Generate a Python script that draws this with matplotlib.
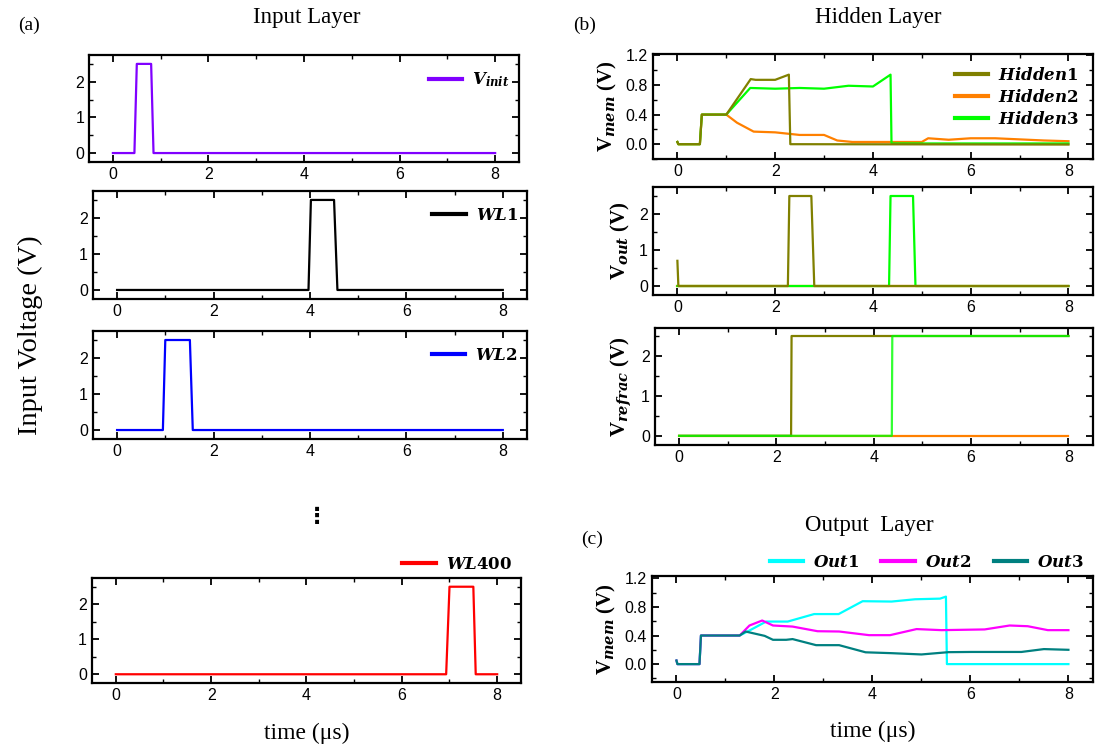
import numpy as np
import matplotlib
matplotlib.use('Agg')
import matplotlib.pyplot as plt
from matplotlib.ticker import MultipleLocator, FormatStrFormatter

# input pulses (time in us, voltage in V)
pulse_v = [0, 0, 2.5, 2.5, 0, 0]
t_init = [0, 0.45, 0.5, 0.8, 0.85, 8]
t_wl1 = [0, 3.97, 4.02, 4.5, 4.57, 8]
t_wl2 = [0, 0.95, 1.0, 1.51, 1.57, 8]
t_wl400 = [0, 6.93, 7.0, 7.5, 7.55, 8]

# hidden layer membrane voltage
h1_mem_t = [0, 0.02, 0.46, 0.5, 1.0, 1.5, 1.6, 2.0, 2.28, 2.31, 8]
h1_mem_v = [0.03, 0, 0, 0.4, 0.4, 0.88, 0.87, 0.87, 0.94, 0, -0.005]
h2_mem_t = [0, 0.02, 0.46, 0.5, 1.0, 1.22, 1.56, 2.0, 2.5, 3.0, 3.27, 3.58,
            4.0, 5.0, 5.13, 5.55, 6.0, 6.5, 7.0, 7.5, 8.0]
h2_mem_v = [0.03, 0, 0, 0.4, 0.4, 0.29, 0.17, 0.16, 0.125, 0.125, 0.05, 0.03,
            0.03, 0.03, 0.08, 0.06, 0.08, 0.08, 0.065, 0.05, 0.04]
h3_mem_t = [0, 0.02, 0.46, 0.5, 1.0, 1.49, 2.0, 2.5, 3.0, 3.5, 4.0, 4.36, 4.38, 8]
h3_mem_v = [0.03, 0, 0, 0.4, 0.4, 0.76, 0.75, 0.76, 0.75, 0.79, 0.78, 0.94, 0.01, 0.01]

# hidden layer output voltage
h1_out_t = [0, 0.02, 2.26, 2.29, 2.74, 2.8, 8]
h1_out_v = [0.7, 0, 0, 2.5, 2.5, 0, 0]
h2_out_t = [0, 8]
h2_out_v = [0, 0]
h3_out_t = [0, 4.33, 4.36, 4.82, 4.87, 8]
h3_out_v = [0, 0, 2.5, 2.5, 0, 0]

# hidden layer refractory voltage
h1_ref_t = [0, 2.3, 2.31, 8]
h1_ref_v = [0, 0, 2.5, 2.5]
h2_ref_t = [0, 8]
h2_ref_v = [0, 0]
h3_ref_t = [0, 4.37, 4.38, 8]
h3_ref_v = [0, 0, 2.5, 2.5]

# output layer membrane voltage
o1_t = [0, 0.02, 0.47, 0.5, 1.29, 1.49, 1.83, 2.27, 2.81, 3.31, 3.8, 4.39,
        4.87, 5.38, 5.5, 5.52, 8]
o1_v = [0.05, 0, 0, 0.4, 0.4, 0.47, 0.595, 0.595, 0.70, 0.70, 0.88, 0.875,
        0.907, 0.916, 0.944, 0, 0]
o2_t = [0, 0.02, 0.47, 0.5, 1.29, 1.49, 1.75, 1.97, 2.37, 2.88, 3.32, 3.93,
        4.36, 4.9, 5.41, 6.29, 6.8, 7.17, 7.58, 8]
o2_v = [0.05, 0, 0, 0.4, 0.4, 0.54, 0.61, 0.54, 0.525, 0.46, 0.456, 0.405,
        0.405, 0.49, 0.475, 0.485, 0.54, 0.53, 0.475, 0.475]
o3_t = [0, 0.02, 0.47, 0.5, 1.29, 1.41, 1.8, 1.97, 2.24, 2.37, 2.85, 3.32,
        3.86, 4.39, 5.0, 5.55, 6.02, 7.04, 7.5, 8]
o3_v = [0.05, 0, 0, 0.4, 0.4, 0.456, 0.395, 0.34, 0.34, 0.35, 0.265, 0.265,
        0.165, 0.153, 0.135, 0.167, 0.17, 0.17, 0.21, 0.2]

plt.rcParams['font.family'] = 'Liberation Sans'
plt.rcParams['mathtext.fontset'] = 'custom'
plt.rcParams['mathtext.rm'] = 'Liberation Serif:bold'
plt.rcParams['mathtext.bf'] = 'Liberation Serif:bold'
plt.rcParams['mathtext.bfit'] = 'DejaVu Serif:italic:bold'
plt.rcParams['mathtext.it'] = 'DejaVu Serif:italic:bold'
plt.rcParams['mathtext.sf'] = 'DejaVu Serif:bold'

serif = 'Liberation Serif'
c_h1, c_h2, c_h3 = '#808000', '#ff8000', '#00ff00'
lw = 1.6

fig = plt.figure(figsize=(10.95, 7.45), dpi=100)


def style(ax, ylim, ymaj, ymin):
    ax.set_xlim(-0.5, 8.5)
    ax.set_ylim(*ylim)
    ax.xaxis.set_major_locator(MultipleLocator(2))
    ax.xaxis.set_minor_locator(MultipleLocator(1))
    ax.yaxis.set_major_locator(MultipleLocator(ymaj))
    ax.yaxis.set_minor_locator(MultipleLocator(ymin))
    ax.tick_params(which='both', direction='in', top=True, right=True, labelsize=11.5)
    ax.tick_params(which='major', length=5, width=1.3)
    ax.tick_params(which='minor', length=3, width=1.0)
    for s in ax.spines.values():
        s.set_linewidth(1.6)


def legend(ax, **kw):
    kw.setdefault('handlelength', 2.0)
    leg = ax.legend(frameon=False, fontsize=12, handletextpad=0.6, **kw)
    for ln in leg.get_lines():
        ln.set_linewidth(3)
    return leg


# left column: input layer
left = [
    ([0.0813, 0.7826, 0.3927, 0.1436], t_init, '#8000ff', r'$\mathbfit{V}_{\mathbfit{init}}$'),
    ([0.0849, 0.5987, 0.3963, 0.1450], t_wl1, 'black', r'$\mathbfit{WL}\mathsf{1}$'),
    ([0.0849, 0.4107, 0.3963, 0.1450], t_wl2, '#0000ff', r'$\mathbfit{WL}\mathsf{2}$'),
    ([0.0840, 0.0832, 0.3918, 0.1410], t_wl400, '#ff0000', r'$\mathbfit{WL}\mathsf{400}$'),
]
for k, (rect, tt, col, lab) in enumerate(left):
    ax = fig.add_axes(rect)
    ax.plot(tt, pulse_v, color=col, lw=lw, label=lab)
    style(ax, (-0.25, 2.75), 1, 0.5)
    if k < 3:
        legend(ax, loc='upper right', bbox_to_anchor=(1.0, 0.94), borderaxespad=0.15)
    else:
        legend(ax, loc='lower right', bbox_to_anchor=(1.0, 0.97), borderaxespad=0.15)
        ax.set_xlabel('time (μs)', family=serif, fontsize=17, labelpad=14)

# right column: hidden layer
ylab_kw = dict(fontsize=15, family=serif, fontweight='bold', labelpad=5)

ax = fig.add_axes([0.5963, 0.7866, 0.4018, 0.141])
ax.plot(h2_mem_t, h2_mem_v, color=c_h2, lw=lw, label=r'$\mathbfit{Hidden}\mathsf{2}$')
ax.plot(h3_mem_t, h3_mem_v, color=c_h3, lw=lw, label=r'$\mathbfit{Hidden}\mathsf{3}$')
ax.plot(h1_mem_t, h1_mem_v, color=c_h1, lw=lw, label=r'$\mathbfit{Hidden}\mathsf{1}$')
style(ax, (-0.2, 1.22), 0.4, 0.2)
ax.yaxis.set_major_formatter(FormatStrFormatter('%.1f'))
ax.set_ylabel(r'$\mathbf{V}_{\mathbfit{mem}}$ (V)', **ylab_kw)
h, l = ax.get_legend_handles_labels()
legend(ax, handles=[h[2], h[0], h[1]], labels=[l[2], l[0], l[1]],
       loc='upper right', bbox_to_anchor=(1.003, 1.03), labelspacing=0.3)

ax = fig.add_axes([0.5963, 0.604, 0.4018, 0.145])
ax.plot(h2_out_t, h2_out_v, color=c_h2, lw=lw)
ax.plot(h3_out_t, h3_out_v, color=c_h3, lw=lw)
ax.plot(h1_out_t, h1_out_v, color=c_h1, lw=lw)
style(ax, (-0.25, 2.75), 1, 0.5)
ax.set_ylabel(r'$\mathbf{V}_{\mathbfit{out}}$ (V)', **ylab_kw)

ax = fig.add_axes([0.598, 0.4027, 0.4000, 0.157])
ax.plot(h2_ref_t, h2_ref_v, color=c_h2, lw=lw)
ax.plot(h1_ref_t, h1_ref_v, color=c_h1, lw=lw)
ax.plot(h3_ref_t, h3_ref_v, color=c_h3, lw=lw, alpha=0.8)
style(ax, (-0.23, 2.7), 1, 0.5)
ax.set_ylabel(r'$\mathbf{V}_{\mathbfit{refrac}}$ (V)', **ylab_kw)

# output layer
ax = fig.add_axes([0.5954, 0.0846, 0.4027, 0.142])
ax.plot(o1_t, o1_v, color='#00ffff', lw=lw, label=r'$\mathbfit{Out}\mathsf{1}$')
ax.plot(o2_t, o2_v, color='#ff00ff', lw=lw, label=r'$\mathbfit{Out}\mathsf{2}$')
ax.plot(o3_t, o3_v, color='#008080', lw=lw, label=r'$\mathbfit{Out}\mathsf{3}$')
style(ax, (-0.25, 1.23), 0.4, 0.2)
ax.yaxis.set_major_formatter(FormatStrFormatter('%.1f'))
ax.set_ylabel(r'$\mathbf{V}_{\mathbfit{mem}}$ (V)', **ylab_kw)
legend(ax, loc='lower right', bbox_to_anchor=(1.0, 0.97), ncol=3,
       columnspacing=1.35, borderaxespad=0.15)
ax.set_xlabel('time (μs)', family=serif, fontsize=17, labelpad=14)

# titles and panel labels
W, H = 1095, 745
fig.text(307 / W, 1 - 18 / H, 'Input Layer', family=serif, fontsize=16.5, ha='center', va='center')
fig.text(878 / W, 1 - 18 / H, 'Hidden Layer', family=serif, fontsize=16.5, ha='center', va='center')
fig.text(869 / W, 1 - 526 / H, 'Output  Layer', family=serif, fontsize=16.5, ha='center', va='center')
fig.text(29 / W, 1 - 25 / H, '(a)', family=serif, fontsize=14, ha='center', va='center')
fig.text(585 / W, 1 - 25 / H, '(b)', family=serif, fontsize=14, ha='center', va='center')
fig.text(592 / W, 1 - 539 / H, '(c)', family=serif, fontsize=14, ha='center', va='center')
fig.text(30 / W, 1 - 335 / H, 'Input Voltage (V)', family=serif, fontsize=20.5,
         rotation=90, ha='center', va='center')
fig.text(317 / W, 1 - 517 / H, '⋮', family='DejaVu Sans', fontsize=16,
         fontweight='bold', ha='center', va='center')

fig.savefig('out.png', dpi=100)
